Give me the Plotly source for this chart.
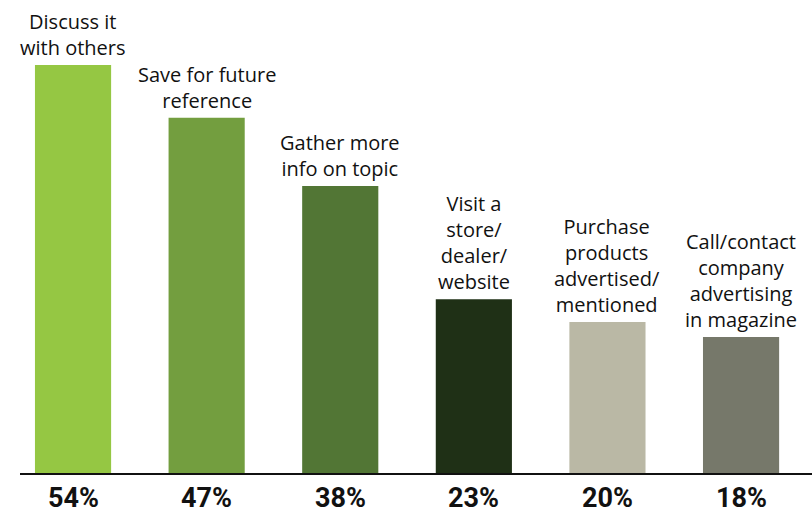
import plotly.graph_objects as go

categories = ["Discuss it<br>with others", "Save for future<br>reference", "Gather more<br>info on topic",
              "Visit a<br>store/<br>dealer/<br>website", "Purchase<br>products<br>advertised/<br>mentioned",
              "Call/contact<br>company<br>advertising<br>in magazine"]
values = [54, 47, 38, 23, 20, 18]
pct_labels = ["54%", "47%", "38%", "23%", "20%", "18%"]
colors = ["#95C743", "#739E3F", "#527635", "#1F3016", "#BAB8A5", "#76786A"]

x = list(range(len(values)))

fig = go.Figure(go.Bar(x=x, y=values, marker_color=colors, marker_line_width=0, width=0.57,
                       hoverinfo="skip"))

for i, (c, v, p) in enumerate(zip(categories, values, pct_labels)):
    fig.add_annotation(x=i, y=v, text=c, showarrow=False, yanchor="bottom", yshift=2,
                       font=dict(family="Open Sans, Noto Sans, sans-serif", size=20, color="#111"),
                       align="center")
    fig.add_annotation(x=i, y=0, text="<b>" + p + "</b>", showarrow=False, yanchor="middle", yshift=-25,
                       font=dict(family="Liberation Sans Narrow, Roboto, sans-serif", size=27, color="#111"))

fig.update_layout(
    width=812, height=525,
    margin=dict(l=20, r=0, t=0, b=52),
    plot_bgcolor="white", paper_bgcolor="white",
    showlegend=False,
    xaxis=dict(range=[-0.397, 5.531], showticklabels=False, showgrid=False, zeroline=False,
               showline=True, linecolor="#111", linewidth=2, ticks=""),
    yaxis=dict(range=[0, 62.6], visible=False, showgrid=False, zeroline=False),
)

fig.write_html("out.html")
